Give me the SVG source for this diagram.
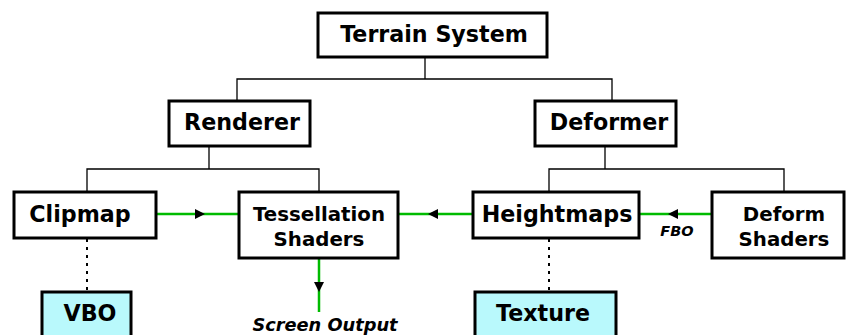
<svg xmlns="http://www.w3.org/2000/svg" width="846" height="335" viewBox="0 0 846 335">
<style>
.box{fill:#fff;stroke:#000;stroke-width:3}
.res{fill:#b9f9fc;stroke:#000;stroke-width:3}
.t{font-family:"DejaVu Sans",sans-serif;font-weight:bold;fill:#000;text-anchor:middle}
.tree{fill:none;stroke:#000;stroke-width:1.3}
.flow{fill:none;stroke:#00bb00;stroke-width:2.5}
.dot{fill:none;stroke:#000;stroke-width:2;stroke-dasharray:3,5}
.lbl{font-family:"DejaVu Sans",sans-serif;font-weight:bold;font-style:italic;fill:#000;text-anchor:middle}
</style>
<g id="connectors">
<path class="tree" d="M425,57 V79 M237,100 V79 H612 V100"/>
<path class="tree" d="M209,146 V169 M87,192 V169 H319 V192"/>
<path class="tree" d="M605,146 V169 M549,192 V169 H784 V192"/>
<path class="flow" d="M156,214 H239"/>
<path d="M195,209 L205,214 L195,219 z" fill="#000"/>
<path class="flow" d="M398,214 H472"/>
<path d="M438,209 L428,214 L438,219 z" fill="#000"/>
<path class="flow" d="M639,214 H712"/>
<path d="M678,209 L668,214 L678,219 z" fill="#000"/>
<path class="flow" d="M319,258 V312"/>
<path d="M314,282 L319,292 L324,282 z" fill="#000"/>
<path class="dot" d="M87,239 V291"/>
<path class="dot" d="M549,239 V291"/>
<text class="lbl" x="325" y="331" font-size="17.8">Screen Output</text>
<text class="lbl" x="677" y="236" font-size="14.5">FBO</text>
</g>
<g id="terrain-system">
<rect class="box" x="318" y="13" width="229" height="44"/>
<text class="t" x="434" y="42" font-size="22.2">Terrain System</text>
</g>
<g id="renderer">
<rect class="box" x="169" y="101" width="141" height="45"/>
<text class="t" x="242" y="130" font-size="22.2">Renderer</text>
</g>
<g id="deformer">
<rect class="box" x="535" y="101" width="141" height="45"/>
<text class="t" x="609" y="130" font-size="22.2">Deformer</text>
</g>
<g id="clipmap">
<rect class="box" x="14" y="192" width="142" height="46"/>
<text class="t" x="80" y="222" font-size="22.2">Clipmap</text>
</g>
<g id="tessellation-shaders">
<rect class="box" x="239" y="192" width="159" height="66"/>
<text class="t" x="319" y="221" font-size="19.8">Tessellation</text>
<text class="t" x="319" y="246" font-size="19.8">Shaders</text>
</g>
<g id="heightmaps">
<rect class="box" x="473" y="192" width="166" height="46"/>
<text class="t" x="557" y="222" font-size="22.2">Heightmaps</text>
</g>
<g id="deform-shaders">
<rect class="box" x="712" y="192" width="132" height="66"/>
<text class="t" x="784" y="221" font-size="19.8">Deform</text>
<text class="t" x="784" y="246" font-size="19.8">Shaders</text>
</g>
<g id="vbo">
<rect class="res" x="42" y="292" width="89" height="50"/>
<text class="t" x="90" y="321" font-size="22.2">VBO</text>
</g>
<g id="texture">
<rect class="res" x="475" y="292" width="141" height="50"/>
<text class="t" x="543" y="321" font-size="22.2">Texture</text>
</g>
</svg>
